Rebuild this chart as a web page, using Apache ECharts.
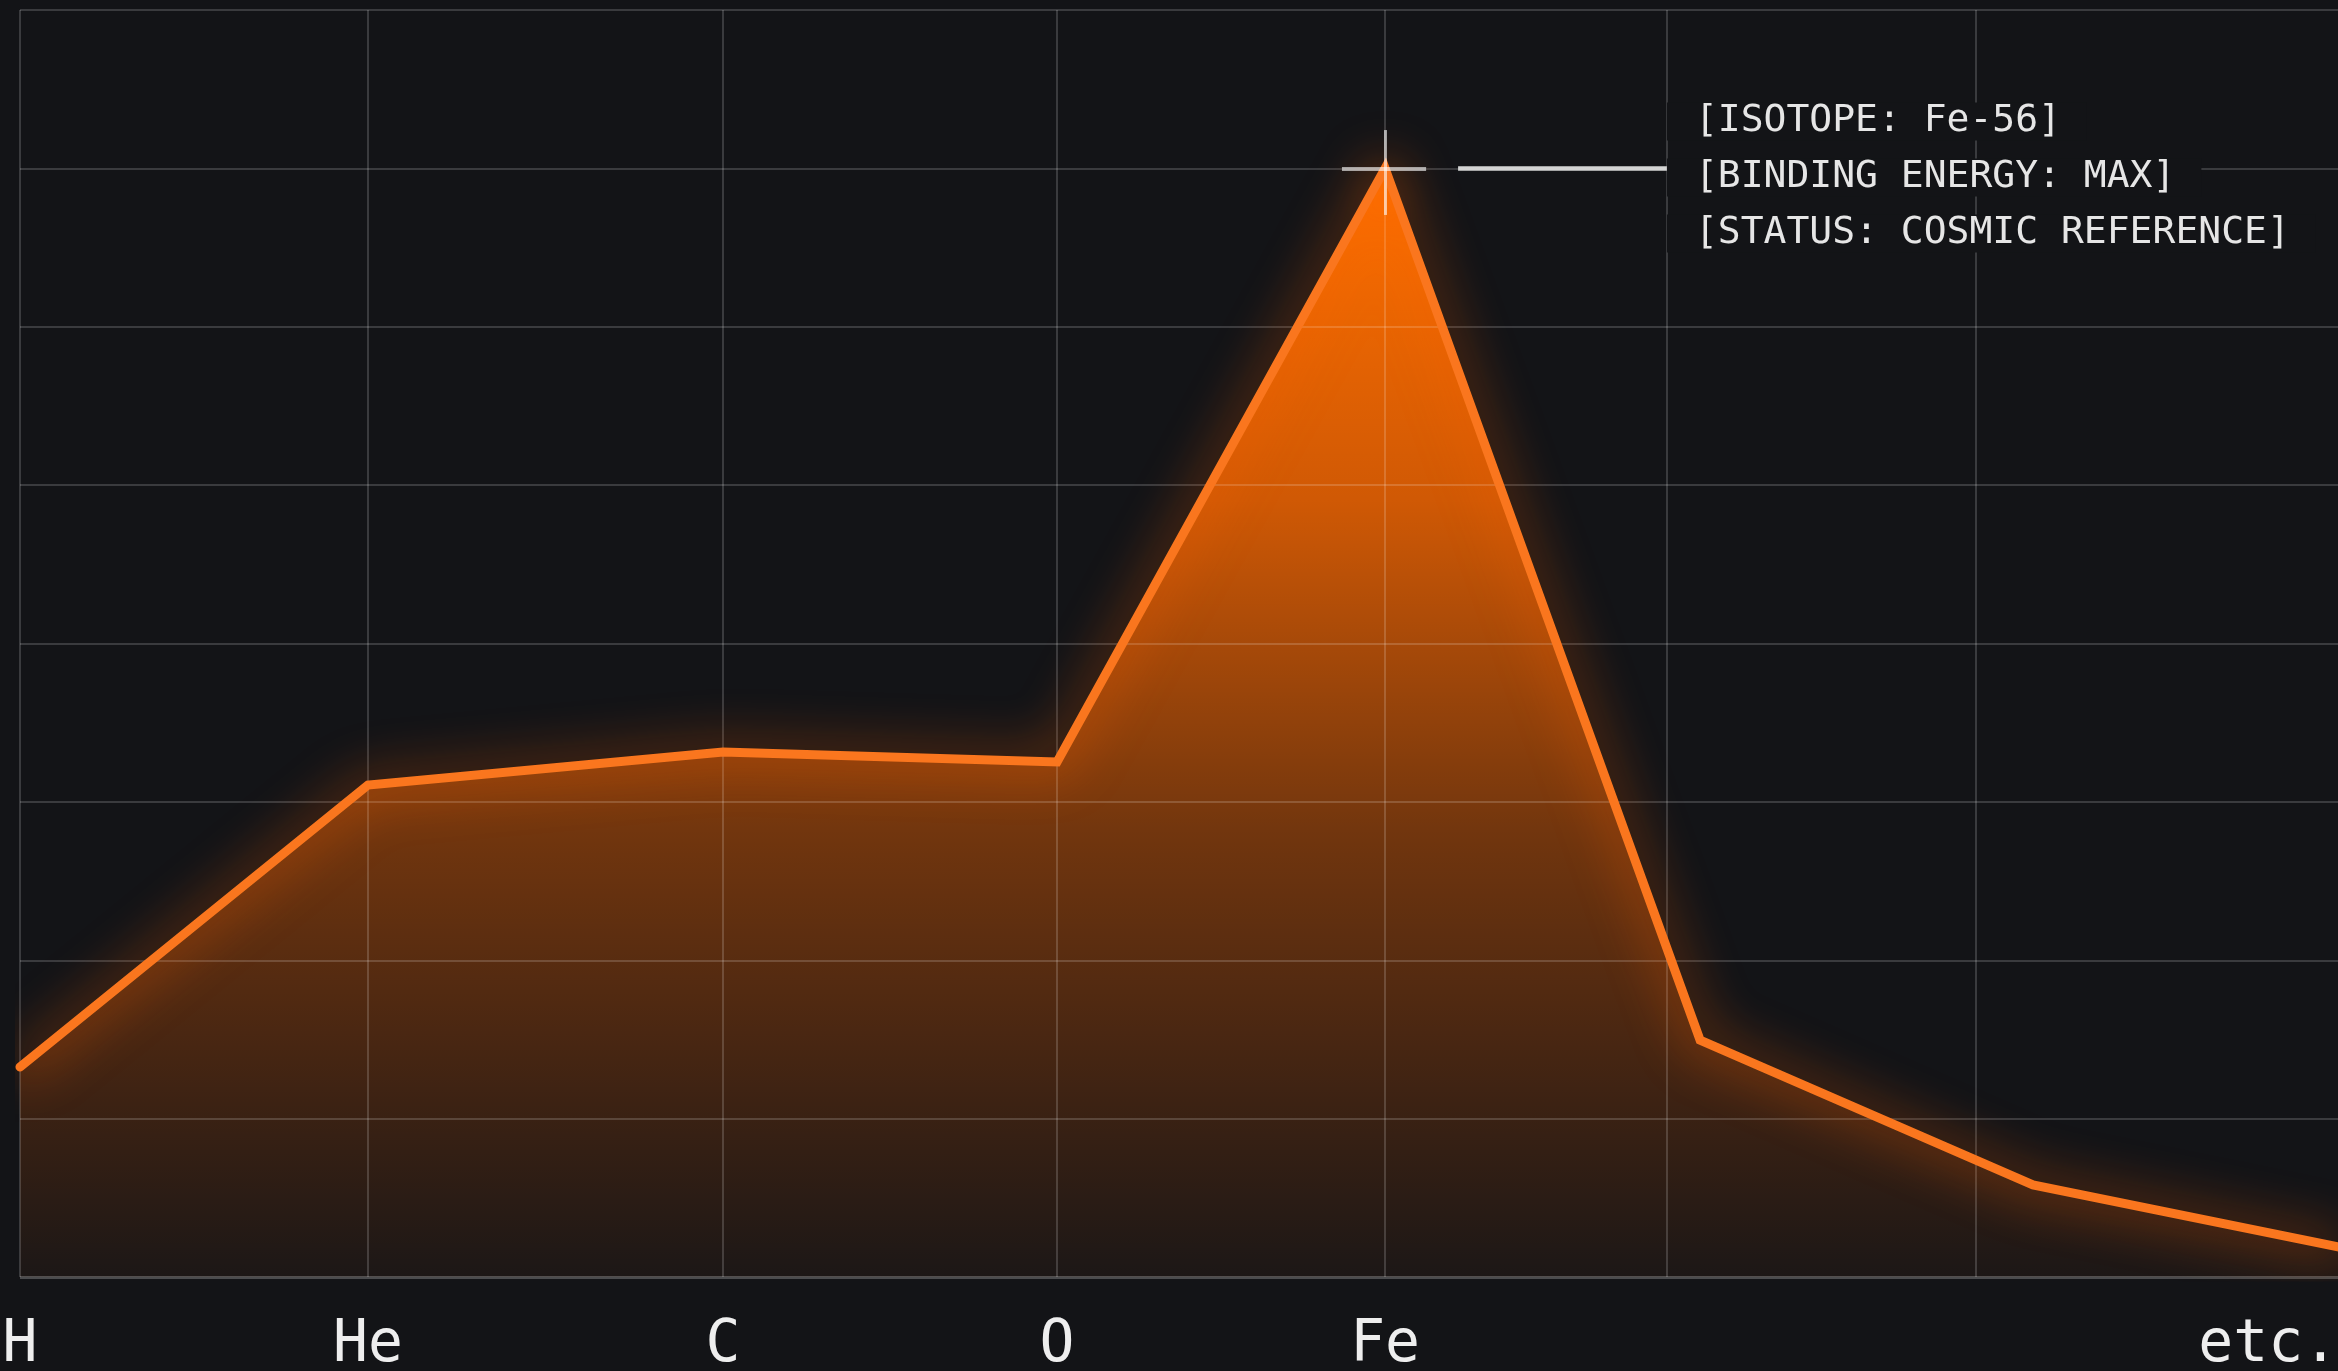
<!DOCTYPE html>
<html>
<head>
<meta charset="utf-8">
<script src="https://cdn.jsdelivr.net/npm/echarts@6/dist/echarts.min.js"></script>
<style>
  html, body { margin: 0; padding: 0; background: #131417; }
  #chart { width: 2338px; height: 1371px; }
</style>
</head>
<body>
<div id="chart"></div>
<script>
// ---- data ----
const elements = ['H', 'He', 'C', 'O', 'Fe', '', '', 'etc.'];
const xPositions = [0, 15.01, 30.33, 44.74, 58.89, 72.48, 86.84, 100];
const bindingValues = [1.326, 3.106, 3.315, 3.252, 7.0, 1.496, 0.581, 0.19];
const gridXLines = [0, 15.01, 30.33, 44.74, 58.89, 71.05, 84.38];
const gridYLines = [1, 2, 3, 4, 5, 6, 7, 8];
const annotationLines = ['[ISOTOPE: Fe-56]', '[BINDING ENERGY: MAX]', '[STATUS: COSMIC REFERENCE]'];

const points = xPositions.map((x, i) => [x, bindingValues[i]]);
const labelValues = xPositions.filter((x, i) => elements[i] !== '');
const labelMap = {};
xPositions.forEach((x, i) => { if (elements[i]) labelMap[x] = elements[i]; });

const peakIdx = bindingValues.indexOf(Math.max(...bindingValues));
const peakX = xPositions[peakIdx];
const peakY = bindingValues[peakIdx];

const chart = echarts.init(document.getElementById('chart'), null, { renderer: 'canvas' });

const gridLineStyle = { color: 'rgba(255,255,255,0.17)', width: 2, type: 'solid' };

const option = {
  backgroundColor: '#131417',
  animation: false,
  grid: { left: 20, right: 0, top: 10, bottom: 94, containLabel: false, outerBoundsMode: 'none' },
  xAxis: {
    type: 'value', min: 0, max: 100,
    axisLine: { show: false },
    axisTick: { show: false },
    splitLine: { show: false },
    axisLabel: {
      customValues: labelValues,
      formatter: v => labelMap[v] || '',
      color: '#eeeeee',
      fontFamily: 'DejaVu Sans Mono',
      fontSize: 58,
      margin: 40,
      alignMinLabel: 'center',
      alignMaxLabel: 'right',
      hideOverlap: false
    }
  },
  yAxis: {
    type: 'value', min: 0, max: 8, interval: 1,
    axisLine: { show: false }, axisTick: { show: false },
    axisLabel: { show: false }, splitLine: { show: false }
  },
  series: [
    {
      name: 'area', type: 'line', z: 1, data: points,
      symbol: 'none', silent: true,
      lineStyle: { width: 0 },
      areaStyle: {
        opacity: 1,
        color: new echarts.graphic.LinearGradient(0, 0, 0, 1, [
          { offset: 0, color: 'rgba(255,112,0,1)' },
          { offset: 0.3, color: 'rgba(255,106,0,0.8)' },
          { offset: 0.6, color: 'rgba(255,104,0,0.4)' },
          { offset: 0.85, color: 'rgba(255,100,0,0.17)' },
          { offset: 1, color: 'rgba(255,100,0,0.04)' }
        ])
      }
    },
    {
      name: 'grid', type: 'line', z: 2, data: [], silent: true,
      markLine: {
        z: 2, silent: true, animation: false,
        symbol: ['none', 'none'],
        label: { show: false },
        lineStyle: gridLineStyle,
        data: [
          ...gridXLines.map(x => ({ xAxis: x })),
          ...gridYLines.map(y => ({ yAxis: y })),
          { yAxis: 0, lineStyle: { color: 'rgba(255,255,255,0.24)', width: 3, type: 'solid' } }
        ]
      }
    },
    {
      name: 'binding', type: 'line', z: 3, data: points,
      symbol: 'none', silent: true,
      lineStyle: {
        color: '#fa761e', width: 9, join: 'miter', cap: 'round',
        shadowBlur: 50, shadowColor: 'rgba(255,100,0,0.95)'
      },
      markLine: {
        z: 6, silent: true, animation: false,
        symbol: ['none', 'none'],
        label: { show: false },
        data: [
          [
            { coord: [peakX, peakY + 0.242], lineStyle: { color: 'rgba(255,255,255,0.6)', width: 3, type: 'solid' } },
            { coord: [peakX, peakY - 0.294] }
          ],
          [
            { coord: [peakX - 1.86, peakY], lineStyle: { color: 'rgba(255,255,255,0.6)', width: 4, type: 'solid' } },
            { coord: [peakX + 1.77, peakY] }
          ],
          [
            {
              coord: [peakX + 3.15, peakY],
              lineStyle: { color: '#d4d4d4', width: 4.5, type: 'solid' },
              label: {
                show: true,
                position: 'end',
                distance: 0,
                offset: [0, 9],
                formatter: annotationLines.map(t => '{a|' + t + '}').join('\n'),
                rich: {
                  a: {
                    color: '#e6e6e6',
                    fontFamily: 'DejaVu Sans Mono',
                    fontSize: 38,
                    lineHeight: 56,
                    backgroundColor: '#131417',
                    padding: [0, 26, 0, 28]
                  }
                }
              }
            },
            { coord: [gridXLines[5], peakY] }
          ]
        ]
      }
    }
  ]
};

chart.setOption(option);
</script>
</body>
</html>
